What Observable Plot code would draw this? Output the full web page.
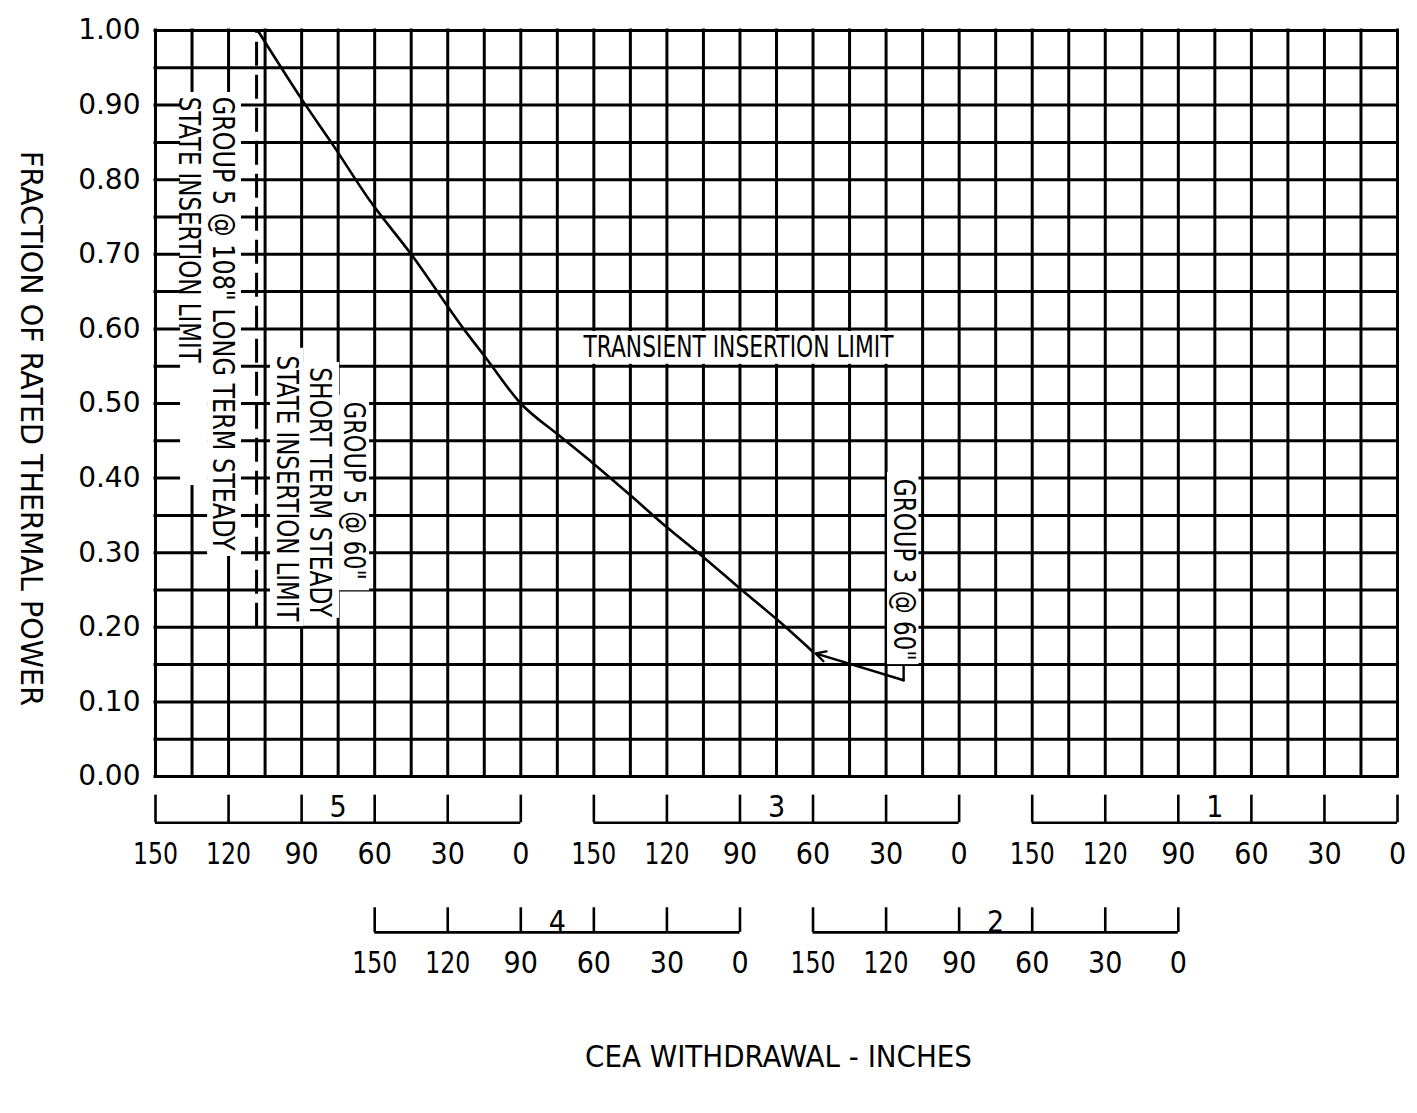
<!DOCTYPE html>
<html>
<head>
<meta charset="utf-8">
<script src="https://cdn.jsdelivr.net/npm/d3@7"></script>
<script src="https://cdn.jsdelivr.net/npm/@observablehq/plot@0.6"></script>
<style>
  html, body { margin: 0; padding: 0; background: #ffffff; }
  #chart svg { display: block; }
</style>
</head>
<body>
<div id="chart"></div>
<script>
// ---------- DATA ----------
// Cumulative CEA withdrawal axis (inches): group 5 reads 150" at 0, groups overlap by 60".
const yTickValues = [0.00, 0.10, 0.20, 0.30, 0.40, 0.50, 0.60, 0.70, 0.80, 0.90, 1.00];
const yTickLabels = ["0.00", "0.10", "0.20", "0.30", "0.40", "0.50", "0.60", "0.70", "0.80", "0.90", "1.00"];

const groupNames  = ["5", "4", "3", "2", "1"];
const groupStart  = [0, 90, 180, 270, 360];   // cumulative inches where the group reads 150"
const groupRow    = [1, 2, 1, 2, 1];
const scaleReadings = [150, 120, 90, 60, 30, 0];
const scaleLabels   = ["150", "120", "90", "60", "30", "0"];

// Transient insertion limit (cumulative inches, fraction of rated thermal power)
const transientWithdrawal = [42, 60, 73, 88, 105, 127, 135, 150, 165, 180, 195, 210, 225, 240, 255, 270];
const transientPower      = [1.00, 0.908, 0.846, 0.772, 0.700, 0.598, 0.564, 0.500, 0.459, 0.419, 0.377, 0.334, 0.294, 0.252, 0.211, 0.167];

// Long term steady state insertion limit: Group 5 @ 108"
const longTermWithdrawal = 41.5;
const longTermPowerRange = [0.20, 1.00];

// Annotation texts
const annotationTexts = [
  "GROUP 5 @ 108\" LONG TERM STEADY",
  "STATE INSERTION LIMIT",
  "GROUP 5 @ 60\"",
  "SHORT TERM STEADY",
  "STATE INSERTION LIMIT",
  "GROUP 3 @ 60\"",
  "TRANSIENT INSERTION LIMIT"
];
const annotationU = [27.5, 13.8, 81.3, 67.4, 53.8, 307.2, 239.4];
const annotationV = [0.607, 0.733, 0.383, 0.381, 0.386, 0.277, 0.575];
const annotationRotate = [90, 90, 90, 90, 90, 90, 0];

// White boxes behind annotations (u1,u2,v1,v2)
const boxU1 = [10.3, 21.4, 47.2, 60.8, 75.6, 300.6, 173.3];
const boxU2 = [21.4, 35.3, 60.8, 75.6, 87.9, 313.5, 305.5];
const boxV1 = [0.390, 0.295, 0.201, 0.212, 0.249, 0.150, 0.5525];
const boxV2 = [0.917, 0.917, 0.574, 0.555, 0.511, 0.4075, 0.5965];

// Leader for "GROUP 3 @ 60"" pointing to end of the curve
const leaderStub = [{u: 307.2, v: 0.148}, {u: 307.2, v: 0.129}];
const leaderArrow = [{u1: 307.2, v1: 0.129, u2: 271, v2: 0.165}];

const yTitle = "FRACTION OF RATED THERMAL POWER";
const xTitle = "CEA WITHDRAWAL - INCHES";

// ---------- LAYOUT (positions in axis units) ----------
const rowLayout = {
  1: {base: -0.062, tickTop: -0.025, label: -0.104, number: -0.042},
  2: {base: -0.209, tickTop: -0.176, label: -0.251, number: -0.196}
};
const FONT = "'DejaVu Sans Condensed', 'DejaVu Sans', sans-serif";
const INK = "#000000";

// ---------- BUILD TABLES ----------
const transient = transientWithdrawal.map((u, i) => ({u, v: transientPower[i]}));
const annotations = annotationTexts.map((t, i) => ({text: t, u: annotationU[i], v: annotationV[i], rotate: annotationRotate[i]}));
const boxes = boxU1.map((_, i) => ({u1: boxU1[i], u2: boxU2[i], v1: boxV1[i], v2: boxV2[i]}));
const groups = groupNames.map((g, i) => ({name: g, start: groupStart[i], row: groupRow[i]}));
const ticks = groups.flatMap(g => scaleReadings.map((r, j) => ({u: g.start + (150 - r), label: scaleLabels[j], row: g.row})));

const gridU = d3.range(0, 510 + 0.1, 15);
const gridV = d3.range(0, 1 + 1e-9, 0.05);

const chart = Plot.plot({
  width: 1417,
  height: 1113,
  marginLeft: 155,
  marginRight: 20,
  marginTop: 30,
  marginBottom: 337,
  x: {domain: [0, 510], axis: null},
  y: {domain: [0, 1], axis: null},
  style: {background: "#ffffff", color: INK, fontFamily: FONT},
  marks: [
    // grid
    Plot.ruleX(gridU, {x: d => d, y1: 0, y2: 1, stroke: INK, strokeWidth: 3, strokeLinecap: "square"}),
    Plot.ruleY(gridV, {y: d => d, x1: 0, x2: 510, stroke: INK, strokeWidth: 3, strokeLinecap: "square"}),
    // white boxes under annotations
    Plot.rect(boxes, {x1: "u1", x2: "u2", y1: "v1", y2: "v2", fill: "#ffffff"}),
    // long term steady state limit (dashed)
    Plot.ruleX([longTermWithdrawal], {x: d => d, y1: longTermPowerRange[0], y2: longTermPowerRange[1], stroke: INK, strokeWidth: 3, strokeDasharray: "24,9"}),
    // transient insertion limit curve
    Plot.line(transient, {x: "u", y: "v", stroke: INK, strokeWidth: 2.6, curve: "monotone-x"}),
    // leader + arrow
    Plot.line(leaderStub, {x: "u", y: "v", stroke: INK, strokeWidth: 2.4}),
    Plot.arrow(leaderArrow, {x1: "u1", y1: "v1", x2: "u2", y2: "v2", stroke: INK, strokeWidth: 2.4, headLength: 7, headAngle: 55, insetEnd: 0}),
    // annotations
    Plot.text(annotations.filter(d => d.rotate === 90), {x: "u", y: "v", text: "text", rotate: 90, fontSize: 30, fill: INK, textAnchor: "middle", lineAnchor: "middle"}),
    Plot.text(annotations.filter(d => d.rotate === 0), {x: "u", y: "v", text: "text", fontSize: 30, fill: INK, textAnchor: "middle", lineAnchor: "middle"}),
    // y tick labels
    Plot.text(yTickValues, {x: 0, y: d => d, text: (d, i) => yTickLabels[i], dx: -15, textAnchor: "end", lineAnchor: "middle", fontSize: 28, fontFamily: "'DejaVu Sans', sans-serif", fill: INK}),
    // group scales: baselines
    Plot.ruleY(groups, {y: g => rowLayout[g.row].base, x1: "start", x2: g => g.start + 150, stroke: INK, strokeWidth: 2.6}),
    // group scales: ticks
    Plot.ruleX(ticks, {x: "u", y1: t => rowLayout[t.row].base, y2: t => rowLayout[t.row].tickTop, stroke: INK, strokeWidth: 2.6}),
    // group scales: labels
    Plot.text(ticks, {x: "u", y: t => rowLayout[t.row].label, text: "label", fontSize: 30, fill: INK, lineAnchor: "middle"}),
    // group numbers
    Plot.text(groups, {x: g => g.start + 75, y: g => rowLayout[g.row].number, text: "name", fontSize: 30, fill: INK, lineAnchor: "middle"}),
    // axis titles
    Plot.text([yTitle], {frameAnchor: "left", text: d => d, dx: -125, dy: 25, rotate: 90, fontSize: 30, fill: INK, textAnchor: "middle", lineAnchor: "middle"}),
    Plot.text([xTitle], {frameAnchor: "bottom", text: d => d, dx: 2, dy: 281, fontSize: 30, fill: INK, textAnchor: "middle", lineAnchor: "middle"})
  ]
});

document.getElementById("chart").appendChild(chart);

// Condense the lettering to the lengths it occupies in the original
const textLengths = new Map([
  [yTitle, 555],
  [xTitle, 387],
  ["TRANSIENT INSERTION LIMIT", 310],
  ["GROUP 5 @ 108\" LONG TERM STEADY", 454],
  ["STATE INSERTION LIMIT", 266],
  ["GROUP 5 @ 60\"", 178],
  ["SHORT TERM STEADY", 250],
  ["GROUP 3 @ 60\"", 182],
  ["150", 45], ["120", 45]
]);
chart.querySelectorAll("text").forEach(t => {
  const len = textLengths.get(t.textContent);
  if (len) { t.setAttribute("textLength", len); t.setAttribute("lengthAdjust", "spacingAndGlyphs"); }
});
</script>
</body>
</html>
